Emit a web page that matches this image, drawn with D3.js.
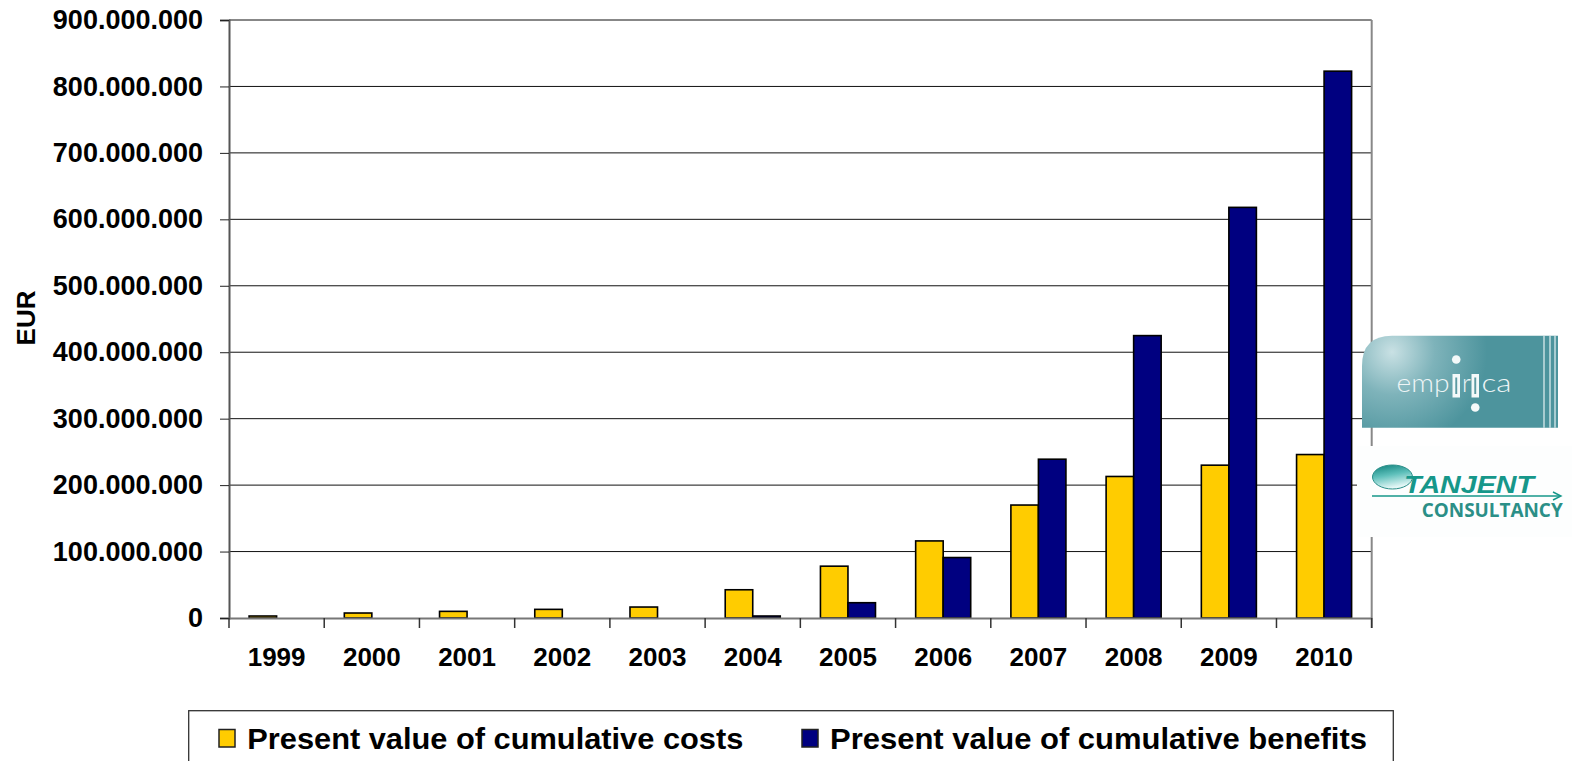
<!DOCTYPE html>
<html>
<head>
<meta charset="utf-8">
<script src="https://cdn.jsdelivr.net/npm/d3@7"></script>
<style>
  html, body { margin: 0; padding: 0; background: #fff; }
  svg { display: block; font-family: "Liberation Sans", Arial, sans-serif; }
</style>
</head>
<body>
<svg id="chart" width="1572" height="761"></svg>
<script>
// Cumulative present values per year (EUR)
const years = ["1999", "2000", "2001", "2002", "2003", "2004", "2005", "2006", "2007", "2008", "2009", "2010"];
const costs = [3e6, 7.5e6, 10e6, 13e6, 16.5e6, 42.5e6, 78e6, 116e6, 170e6, 213e6, 230e6, 246e6];
const benefits = [0, 0, 0, 0, 0, 3e6, 23e6, 91e6, 239e6, 425e6, 618e6, 823e6];
const seriesNames = ["Present value of cumulative costs", "Present value of cumulative benefits"];
const seriesColors = ["#FFCC00", "#000080"];
const yTicks = [0, 100e6, 200e6, 300e6, 400e6, 500e6, 600e6, 700e6, 800e6, 900e6];
const yLabel = "EUR";

const svg = d3.select("#chart");
const plot = { left: 229, right: 1371.7, top: 20, bottom: 618 };

const x = d3.scaleBand().domain(years).range([plot.left, plot.right]).paddingInner(0).paddingOuter(0);
const xSub = d3.scaleBand().domain([0, 1]).range([0, x.bandwidth()]).paddingInner(0).paddingOuter(0.73);
const y = d3.scaleLinear().domain([0, 900e6]).range([plot.bottom, plot.top]);

const locale = d3.formatLocale({ decimal: ",", thousands: ".", grouping: [3], currency: ["", " €"] });
const fmt = locale.format(",d");

// Horizontal gridlines
svg.append("g")
  .selectAll("line")
  .data(yTicks.filter(d => d > 0))
  .join("line")
  .attr("x1", plot.left).attr("x2", plot.right)
  .attr("y1", d => y(d)).attr("y2", d => y(d))
  .attr("stroke", "#111").attr("stroke-width", 1);

// Right frame
svg.append("line")
  .attr("x1", plot.right).attr("x2", plot.right)
  .attr("y1", plot.top).attr("y2", plot.bottom + 10)
  .attr("stroke", "#888").attr("stroke-width", 2);

// Bars
const rows = years.map((yr, i) => ({ year: yr, values: [costs[i], benefits[i]] }));
svg.append("g")
  .selectAll("g")
  .data(rows)
  .join("g")
  .attr("transform", d => `translate(${x(d.year)},0)`)
  .selectAll("rect")
  .data(d => d.values.map((v, k) => ({ k, v })).filter(e => e.v > 0))
  .join("rect")
  .attr("x", d => xSub(d.k))
  .attr("width", xSub.bandwidth())
  .attr("y", d => y(d.v))
  .attr("height", d => y(0) - y(d.v))
  .attr("fill", d => seriesColors[d.k])
  .attr("stroke", "#000")
  .attr("stroke-width", 1.6);

// Y axis
const yAxis = svg.append("g")
  .attr("transform", `translate(${plot.left},0)`)
  .call(d3.axisLeft(y).tickValues(yTicks).tickFormat(fmt).tickSize(9).tickPadding(17));
yAxis.select(".domain").attr("stroke", "#555").attr("stroke-width", 2);
yAxis.selectAll(".tick line").attr("stroke", "#222");
yAxis.selectAll("text")
  .attr("font-size", 27).attr("font-weight", "bold").attr("fill", "#000")
  .attr("font-family", "Liberation Sans, Arial, sans-serif");

// X axis: labels centred in each band, ticks on band boundaries
const xAxis = svg.append("g")
  .attr("transform", `translate(0,${plot.bottom})`)
  .call(d3.axisBottom(x).tickSize(0).tickPadding(30));
xAxis.select(".domain").attr("stroke", "#777").attr("stroke-width", 2);
xAxis.selectAll("text")
  .attr("font-size", 26).attr("font-weight", "bold").attr("fill", "#000")
  .attr("font-family", "Liberation Sans, Arial, sans-serif");
svg.append("g")
  .selectAll("line")
  .data(years.slice(1).map(d => x(d)).concat([plot.left, plot.right]))
  .join("line")
  .attr("x1", d => d).attr("x2", d => d)
  .attr("y1", plot.bottom).attr("y2", plot.bottom + 10)
  .attr("stroke", "#333").attr("stroke-width", 1.5);

// Y axis title
svg.append("text")
  .attr("transform", "translate(35,318) rotate(-90)")
  .attr("text-anchor", "middle")
  .attr("font-size", 26).attr("font-weight", "bold")
  .text(yLabel);

// Legend
const legend = svg.append("g");
legend.append("rect")
  .attr("x", 188.7).attr("y", 710.7).attr("width", 1204.6).attr("height", 70)
  .attr("fill", "#fff").attr("stroke", "#333").attr("stroke-width", 1.3);
const legendItems = [
  { sx: 219, tx: 247.3, w: 496 },
  { sx: 802, tx: 830, w: 537 }
];
legendItems.forEach((it, i) => {
  legend.append("rect")
    .attr("x", it.sx).attr("y", 729.5).attr("width", 16).attr("height", 17.5)
    .attr("fill", seriesColors[i]).attr("stroke", "#222").attr("stroke-width", 1.5);
  legend.append("text")
    .attr("x", it.tx).attr("y", 749)
    .attr("font-size", 29).attr("font-weight", "bold")
    .attr("textLength", it.w).attr("lengthAdjust", "spacingAndGlyphs")
    .text(seriesNames[i]);
});

// empirica logo
const defs = svg.append("defs");
const rg = defs.append("radialGradient").attr("id", "empGlow")
  .attr("gradientUnits", "userSpaceOnUse").attr("cx", 1392).attr("cy", 352).attr("r", 95);
rg.append("stop").attr("offset", "0%").attr("stop-color", "#c9e1e4");
rg.append("stop").attr("offset", "45%").attr("stop-color", "#7eb3ba");
rg.append("stop").attr("offset", "100%").attr("stop-color", "#4d949d");

const emp = svg.append("g");
emp.append("path")
  .attr("d", "M1362,427.7 L1362,366 Q1362,335.7 1392,335.7 L1558,335.7 L1558,427.7 Z")
  .attr("fill", "url(#empGlow)");
[1544, 1550, 1555].forEach(lx => {
  emp.append("line").attr("x1", lx).attr("x2", lx).attr("y1", 335.7).attr("y2", 427.7)
    .attr("stroke", "#e6f2f3").attr("stroke-width", 1.2);
});
const empText = { fill: "#eef5f6", size: 25, family: "Lato, 'Open Sans', sans-serif" };
emp.append("text").attr("x", 1396.5).attr("y", 392)
  .attr("font-size", empText.size).attr("font-family", empText.family).attr("font-weight", 300)
  .attr("fill", empText.fill).attr("textLength", 53).attr("lengthAdjust", "spacingAndGlyphs").text("emp");
emp.append("text").attr("x", 1462).attr("y", 392)
  .attr("font-size", empText.size).attr("font-family", empText.family).attr("font-weight", 300)
  .attr("fill", empText.fill).text("r");
emp.append("text").attr("x", 1481.5).attr("y", 392)
  .attr("font-size", empText.size).attr("font-family", empText.family).attr("font-weight", 300)
  .attr("fill", empText.fill).attr("textLength", 30).attr("lengthAdjust", "spacingAndGlyphs").text("ca");
[{ bx: 1452.5, dy: 359.5 }, { bx: 1471.5, dy: 407.5 }].forEach(b => {
  emp.append("rect").attr("x", b.bx).attr("y", 374).attr("width", 7.5).attr("height", 23.5).attr("fill", "#f4f9f9");
  emp.append("rect").attr("x", b.bx + 2.8).attr("y", 377.5).attr("width", 1.9).attr("height", 16.5).attr("fill", "#5d9aa2");
  emp.append("circle").attr("cx", b.bx + 3.75).attr("cy", b.dy).attr("r", 4.3).attr("fill", "#f4f9f9");
});

// TANJENT CONSULTANCY logo
const tan = svg.append("g");
tan.append("rect").attr("x", 1357).attr("y", 446).attr("width", 215).attr("height", 91).attr("fill", "#fdfefe");
const sg = defs.append("linearGradient").attr("id", "sphere").attr("x1", 0).attr("y1", 0).attr("x2", 0.3).attr("y2", 1);
sg.append("stop").attr("offset", "0%").attr("stop-color", "#0b7f7a");
sg.append("stop").attr("offset", "50%").attr("stop-color", "#5fc0bb");
sg.append("stop").attr("offset", "100%").attr("stop-color", "#e4f7f6");
tan.append("ellipse").attr("cx", 1392.5).attr("cy", 477).attr("rx", 20).attr("ry", 12)
  .attr("fill", "url(#sphere)").attr("stroke", "#2a8e88").attr("stroke-width", 1);
tan.append("text").attr("x", 1404).attr("y", 493.3)
  .attr("font-size", 24).attr("font-style", "italic").attr("font-weight", "bold")
  .attr("font-family", "'Liberation Sans', sans-serif")
  .attr("fill", "#16978a").attr("textLength", 130).attr("lengthAdjust", "spacingAndGlyphs").text("TANJENT");
tan.append("line").attr("x1", 1372).attr("x2", 1560).attr("y1", 496).attr("y2", 496)
  .attr("stroke", "#16978a").attr("stroke-width", 1.4);
tan.append("path").attr("d", "M1553,492 L1561,496 L1553,500").attr("fill", "none")
  .attr("stroke", "#16978a").attr("stroke-width", 1.4);
tan.append("text").attr("x", 1421.7).attr("y", 516.7)
  .attr("font-size", 20).attr("font-weight", "bold").attr("font-family", "'Open Sans', sans-serif")
  .attr("fill", "#2b8f87").attr("textLength", 141).attr("lengthAdjust", "spacingAndGlyphs").text("CONSULTANCY");
</script>
</body>
</html>
